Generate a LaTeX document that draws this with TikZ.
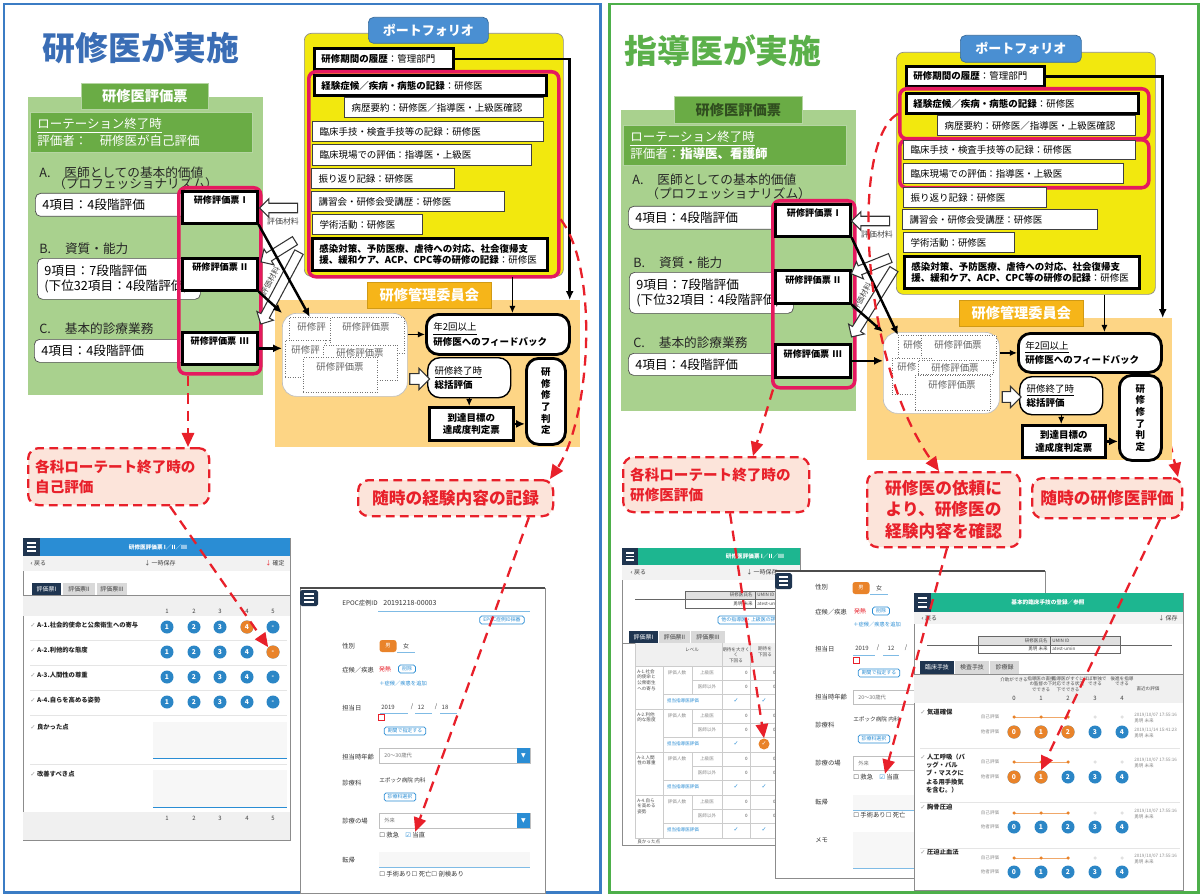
\documentclass[tikz,border=0pt]{standalone}
\usepackage{fontspec}
\setmainfont{Noto Sans CJK JP}
\newfontfamily\symf{DejaVu Sans}
\usetikzlibrary{arrows.meta,positioning,shapes.arrows}

\definecolor{panelblue}{HTML}{3B7CC4}
\definecolor{titleblue}{HTML}{3A6DB5}
\definecolor{panelgreen}{HTML}{4DAF4A}
\definecolor{titlegreen}{HTML}{5BB04A}
\definecolor{evalgreen}{HTML}{A9D18E}
\definecolor{headgreen}{HTML}{6AAC45}
\definecolor{pinkline}{HTML}{E5195F}
\definecolor{portyellow}{HTML}{F2E80E}
\definecolor{portblue}{HTML}{4A8FD2}
\definecolor{comorange}{HTML}{F6B519}
\definecolor{comfill}{HTML}{FDD585}
\definecolor{redline}{HTML}{E8202A}
\definecolor{callfill}{HTML}{FCE4DA}
\definecolor{appblue}{HTML}{2A8DD4}
\definecolor{appgreen}{HTML}{1DB690}
\definecolor{appnavy}{HTML}{1F3550}
\definecolor{dotblue}{HTML}{2B86C6}
\definecolor{dotorange}{HTML}{E9832A}

\begin{document}
\begin{tikzpicture}
  [x=0.02cm,y=-0.02cm,
  wh/.code 2 args={\pgfmathsetlengthmacro\pxW{#1*0.02cm}\pgfmathsetlengthmacro\pxT{#1*0.02cm-8pt}\pgfmathsetlengthmacro\pxH{#2*0.02cm}\edef\pxtmp{\noexpand\tikzset{minimum width=\pxW,minimum height=\pxH,text width=\pxT}}\pxtmp},
  plain box/.style={anchor=north west,inner xsep=4pt,inner ysep=0pt,align=left},
  row box/.style={plain box,draw=black!75,fill=white,line width=0.6pt,font=\fontsize{5.4}{6.6}\selectfont},
  bold row/.style={row box,draw=black,line width=1.6pt},
  pink frame/.style={plain box,draw=pinkline,line width=2pt,rounded corners=4pt},
  item box/.style={plain box,draw=black!70,fill=white,rounded corners=3pt,font=\fontsize{7.2}{9}\selectfont},
  item text/.style={anchor=west,inner sep=0pt,text=black!85,font=\fontsize{7.2}{9}\selectfont},
  sheet/.style={plain box,draw=black,line width=1.5pt,fill=white,align=center,inner ysep=2pt,text height=5pt,text depth=9pt,font=\fontsize{5.2}{6}\selectfont\bfseries},
  tag/.style={plain box,align=center,rounded corners=3pt,text=white,font=\fontsize{7.4}{8}\selectfont\bfseries},
  stack sheet/.style={plain box,draw=black!55,densely dotted,fill=white},
  stack text/.style={inner sep=0pt,text=black!60,font=\fontsize{5.4}{6}\selectfont},
  flow box/.style={plain box,draw=black,line width=1.6pt,fill=white,rounded corners=7pt,font=\fontsize{5.4}{7}\selectfont},
  call box/.style={plain box,draw=redline,line width=1.3pt,dash pattern=on 5pt off 3pt,fill=callfill,rounded corners=6pt,text=redline,font=\fontsize{9.5}{12.5}\selectfont\bfseries},
  red link/.style={draw=redline,line width=1.3pt,dash pattern=on 6pt off 4pt,-{Triangle[length=8pt,width=7pt]}},
  blk/.style={draw=black,line width=1.4pt,-{Latex[length=5pt,width=4.5pt]}},
  thin blk/.style={draw=black,line width=0.7pt,-{Latex[length=4pt,width=3.5pt]}},
  hollow/.style={single arrow,draw=black!80,fill=white,line width=0.6pt,inner xsep=0pt,inner ysep=2.4pt,single arrow head extend=2.6pt},
  mat text/.style={inner sep=0pt,text=black!70,font=\fontsize{4.5}{5}\selectfont},
  app head/.style={inner sep=0pt,text=white,font=\fontsize{3.2}{4}\selectfont\bfseries},
  app txt/.style={inner sep=0pt,text=black!75,font=\fontsize{3.4}{4}\selectfont},
  app tiny/.style={inner sep=0pt,text=black!70,font=\fontsize{2.6}{3.2}\selectfont},
  app bold/.style={inner sep=0pt,text=black!85,font=\fontsize{3.6}{4.6}\selectfont\bfseries},
  app lbl/.style={anchor=west,inner sep=0pt,text=black!80,font=\fontsize{3.6}{4.4}\selectfont},
  app btn/.style={draw=appblue,rounded corners=1pt,text=appblue,fill=white,inner xsep=2pt,inner ysep=1pt,font=\fontsize{2.8}{3.4}\selectfont},
  sex m/.style={fill=dotorange,rounded corners=1.5pt,text=white,minimum width=0.34cm,minimum height=0.24cm,inner sep=0pt,font=\fontsize{3}{3.5}\selectfont},
  dot/.style={circle,fill=dotblue,text=white,minimum size=0.26cm,inner sep=0pt,font=\fontsize{3.8}{4}\selectfont\bfseries},
  small dot/.style={circle,fill=dotorange,minimum size=0.07cm,inner sep=0pt}]
  \useasboundingbox (0,0) rectangle (1203,895);

  % panels
  \draw[panelblue,line width=1.7pt] (4,4) rectangle (600,892);
  \draw[panelgreen,line width=1.7pt] (609,4) rectangle (1198,892);
  \node[text=titleblue,font=\fontsize{18.7}{20}\selectfont\bfseries] (Ltitle) at (141,48) {研修医が実施};
  \node[text=titlegreen,font=\fontsize{18.7}{20}\selectfont\bfseries] (Rtitle) at (723,51) {指導医が実施};

  %%% left: evaluation sheet
  \node[plain box,fill=evalgreen,wh={235}{298}] (Lgreen) at (28,97) {};
  \node[tag,fill=headgreen,draw=white!50!headgreen,rounded corners=0pt,wh={127}{26},font=\fontsize{8.1}{9}\selectfont\bfseries] (Ltab) at (81,83) {研修医評価票};
  \node[plain box,fill=headgreen,draw=white!50!headgreen,wh={222}{40},text=white,font=\fontsize{7.1}{8.2}\selectfont] (Lsub) at (30,112) {\underline{ローテーション終了時}\\評価者：\hspace{1em}研修医が自己評価};
  \node[item text] (LtA) at (39,173) {A.\hspace{1.1em}医師としての基本的価値};
  \node[item text] (LtA2) at (53,184) {（プロフェッショナリズム）};
  \node[item box,wh={160}{23}] (LboxA) at (35,193) {4項目：4段階評価};
  \node[item text] (LtB) at (39,249) {B.\hspace{1.1em}資質・能力};
  \node[item box,wh={163}{41}] (LboxB) at (37,258) {9項目：7段階評価\\(下位32項目：4段階評価)};
  \node[item text] (LtC) at (39,329) {C.\hspace{1.1em}基本的診療業務};
  \node[item box,wh={156}{23}] (LboxC) at (34,339) {4項目：4段階評価};
  \node[pink frame,wh={82}{186}] (Lpink) at (177,186) {};
  \node[sheet,wh={75}{32}] (LshI) at (181,190) {研修評価票 I};
  \node[sheet,wh={75}{32}] (LshII) at (181,257) {研修評価票 II};
  \node[sheet,wh={75}{32}] (LshIII) at (181,331) {研修評価票 III};

  %%% left: portfolio
  \node[plain box,fill=portyellow,draw=black!45,rounded corners=4pt,wh={259}{243}] (Lport) at (304,33) {};
  \node[tag,fill=portblue,draw=portblue!75!black,wh={120}{26}] (Lportlbl) at (368,17) {ポートフォリオ};
  \node[bold row,wh={139}{21}] (Lhist) at (313,47) {\textbf{研修期間の履歴}：管理部門};
  \node[pink frame,wh={250}{205}] (Lpinkp) at (307,70) {};
  \node[bold row,wh={232}{20}] (Lr1) at (313,74) {\textbf{経験症候／疾病・病態の記録}：研修医};
  \node[row box,wh={199}{20}] (Lr2) at (344,97) {病歴要約：研修医／指導医・上級医確認};
  \node[row box,wh={231}{20}] (Lr3) at (312,121) {臨床手技・検査手技等の記録：研修医};
  \node[row box,wh={219}{21}] (Lr4) at (312,144) {臨床現場での評価：指導医・上級医};
  \node[row box,wh={143}{20}] (Lr5) at (311,168) {振り返り記録：研修医};
  \node[row box,wh={193}{20}] (Lr6) at (311,191) {講習会・研修会受講歴：研修医};
  \node[row box,wh={110}{20}] (Lr7) at (312,214) {学術活動：研修医};
  \node[bold row,wh={235}{32}] (Lr8) at (311,237) {\textbf{感染対策、予防医療、虐待への対応、社会復帰支}\\\textbf{援、緩和ケア、ACP、CPC等の研修の記録}：研修医};

  %%% left: committee
  \node[plain box,fill=comfill,wh={305}{147}] (Lcom) at (275,300) {};
  \node[tag,fill=comorange,draw=comorange!85!black,rounded corners=0pt,wh={124}{26},font=\fontsize{8.1}{9}\selectfont\bfseries] (Lcomlbl) at (367,282) {研修管理委員会};
  \node[plain box,fill=white,draw=black!25,rounded corners=8pt,wh={125}{83}] (Lstack) at (282,313) {};
  \node[stack sheet,wh={41}{23}] (Ls1) at (289,317) {};
  \node[stack sheet,wh={74}{36}] (Ls2) at (330,317) {};
  \node[stack text,anchor=west] (Lst1) at (297,327) {研修評};
  \node[stack text] (Lst2) at (366,327) {研修評価票};
  \node[stack sheet,wh={40}{37}] (Ls3) at (285,340) {};
  \node[stack sheet,wh={74}{35}] (Ls4) at (323,345) {};
  \node[stack text,anchor=west] (Lst3) at (291,350) {研修評};
  \node[stack text] (Lst4) at (360,353) {研修評価票};
  \node[stack sheet,wh={74}{35}] (Ls5) at (303,357) {};
  \node[stack text] (Lst5) at (340,367) {研修評価票};
  \node[flow box,wh={143}{40}] (Lfb) at (425,313) {\underline{年2回以上}\\\textbf{研修医へのフィードバック}};
  \node[flow box,line width=0.8pt,wh={83}{40}] (Lsum) at (427,357) {\underline{研修終了時}\\\textbf{総括評価}};
  \node[flow box,rounded corners=0pt,align=center,wh={84}{33},font=\fontsize{5.4}{7}\selectfont\bfseries] (Lach) at (428,406) {到達目標の\\達成度判定票};
  \node[flow box,align=center,wh={39}{86},font=\fontsize{5.4}{6.6}\selectfont\bfseries] (Ljdg) at (525,357) {研\\修\\修\\了\\判\\定};

  \coordinate (Lfbtop) at ([xshift=0.29cm]Lfb.north);
  \coordinate (Lcomtop) at ([xshift=-0.22cm]Lcom.north east);
  \draw[thin blk] (Lport.south -| Lfbtop) -- (Lfbtop);
  \draw[blk] (Lhist.east) -| (Lcomtop);
  \draw[thin blk] (Lstack.east |- Lfb.west) -- (Lfb.west);
  \node[hollow,inner ysep=2.8pt,single arrow head extend=3pt,minimum height=0.4cm] (Lho) at (417,379) {};
  \draw[thin blk] (Lsum.south) -- (Lsum.south |- Lach.north);
  \draw[blk] (Lach.east) -- (Lach.east -| Ljdg.west);

  % evaluation material
  \node[hollow,rotate=180,minimum height=0.76cm] (Lh1) at (281,208) {};
  \node[mat text] (Lm1) at (283,221) {評価材料};
  \node[hollow,rotate=212,minimum height=0.8cm] (Lh2) at (280,250) {};
  \node[hollow,rotate=242,minimum height=1.63cm] (Lh3) at (281,286) {};
  \node[mat text,rotate=62] (Lm2) at (270,281) {評価材料};
  \draw[blk] (LshI.south east) -- (Ls1.north);
  \draw[blk] (LshII.south east) -- (Lstack.north west);
  \draw[blk] (LshIII.east) -- (Lstack.west |- LshIII.east);

  %%% right: evaluation sheet
  \node[plain box,fill=evalgreen,wh={235}{301}] (Rgreen) at (621,110) {};
  \node[tag,fill=headgreen,draw=white!50!headgreen,rounded corners=0pt,wh={128}{27},text=headgreen!45!black,font=\fontsize{8.1}{9}\selectfont\bfseries] (Rtab) at (674,96) {研修医評価票};
  \node[plain box,fill=headgreen,draw=white!50!headgreen,wh={223}{40},text=white,font=\fontsize{7.1}{8.2}\selectfont] (Rsub) at (623,125) {\underline{ローテーション終了時}\\評価者：\textbf{指導医、看護師}};
  \node[item text] (RtA) at (632,180) {A.\hspace{1.1em}医師としての基本的価値};
  \node[item text] (RtA2) at (646,194) {（プロフェッショナリズム）};
  \node[item box,wh={162}{23}] (RboxA) at (628,206) {4項目：4段階評価};
  \node[item text] (RtB) at (633,263) {B.\hspace{1.1em}資質・能力};
  \node[item box,wh={164}{41}] (RboxB) at (629,272) {9項目：7段階評価\\(下位32項目：4段階評価)};
  \node[item text] (RtC) at (633,343) {C.\hspace{1.1em}基本的診療業務};
  \node[item box,wh={152}{22}] (RboxC) at (628,353) {4項目：4段階評価};
  \node[pink frame,wh={82}{187}] (Rpink) at (771,199) {};
  \node[sheet,wh={75}{32}] (RshI) at (774,203) {研修評価票 I};
  \node[sheet,wh={75}{33}] (RshII) at (774,269) {研修評価票 II};
  \node[sheet,wh={75}{33}] (RshIII) at (774,343) {研修評価票 III};

  %%% right: portfolio
  \node[plain box,fill=portyellow,draw=black!45,rounded corners=4pt,wh={259}{242}] (Rport) at (896,52) {};
  \node[tag,fill=portblue,draw=portblue!75!black,wh={121}{27}] (Rportlbl) at (960,35) {ポートフォリオ};
  \node[bold row,wh={138}{20}] (Rhist) at (905,65) {\textbf{研修期間の履歴}：管理部門};
  \node[pink frame,wh={249}{50}] (Rpinkp1) at (898,87) {};
  \node[pink frame,wh={249}{48}] (Rpinkp2) at (898,138) {};
  \node[bold row,wh={232}{20}] (Rr1) at (905,92) {\textbf{経験症候／疾病・病態の記録}：研修医};
  \node[row box,wh={198}{20}] (Rr2) at (937,115) {病歴要約：研修医／指導医・上級医確認};
  \node[row box,wh={232}{19}] (Rr3) at (903,140) {臨床手技・検査手技等の記録：研修医};
  \node[row box,wh={220}{20}] (Rr4) at (903,163) {臨床現場での評価：指導医・上級医};
  \node[row box,wh={143}{20}] (Rr5) at (903,187) {振り返り記録：研修医};
  \node[row box,wh={195}{20}] (Rr6) at (902,209) {講習会・研修会受講歴：研修医};
  \node[row box,wh={111}{20}] (Rr7) at (903,232) {学術活動：研修医};
  \node[bold row,wh={235}{32}] (Rr8) at (903,255) {\textbf{感染対策、予防医療、虐待への対応、社会復帰支}\\\textbf{援、緩和ケア、ACP、CPC等の研修の記録}：研修医};

  % callout behind the committee box
  \node[call box,align=center,wh={150}{40}] (Rcall3) at (1031,477) {随時の研修医評価};
  \coordinate (Rtail) at (1166,425);
  \draw[red link] (Rtail) -- ([xshift=2.94cm]Rcall3.north west);

  %%% right: committee
  \node[plain box,fill=comfill,wh={305}{142}] (Rcom) at (867,318) {};
  \node[tag,fill=comorange,draw=comorange!85!black,rounded corners=0pt,wh={124}{26},font=\fontsize{8.1}{9}\selectfont\bfseries] (Rcomlbl) at (959,300) {研修管理委員会};
  \node[plain box,fill=white,draw=black!25,rounded corners=8pt,wh={116}{81}] (Rstack) at (883,332) {};
  \node[stack sheet,wh={40}{24}] (Rs1) at (898,335) {};
  \node[stack text,anchor=west] (Rst1) at (903,345) {研修評};
  \node[stack sheet,wh={75}{27}] (Rs2) at (921,335) {};
  \node[stack text] (Rst2) at (958,345) {研修評価票};
  \node[stack sheet,wh={40}{36}] (Rs3) at (892,358) {};
  \node[stack sheet,wh={75}{14}] (Rs4) at (918,360) {};
  \node[stack text,anchor=west] (Rst3) at (897,367) {研修};
  \node[stack text] (Rst4) at (955,368) {研修評価票};
  \node[stack sheet,wh={75}{35}] (Rs5) at (915,375) {};
  \node[stack text] (Rst5) at (952,385) {研修評価票};
  \node[flow box,wh={143}{39}] (Rfb) at (1017,332) {\underline{年2回以上}\\\textbf{研修医へのフィードバック}};
  \node[flow box,line width=0.8pt,wh={83}{38}] (Rsum) at (1019,376) {\underline{研修終了時}\\\textbf{総括評価}};
  \node[flow box,rounded corners=0pt,align=center,wh={83}{32},font=\fontsize{5.4}{7}\selectfont\bfseries] (Rach) at (1021,424) {到達目標の\\達成度判定票};
  \node[flow box,align=center,wh={42}{85},font=\fontsize{5.4}{6.6}\selectfont\bfseries] (Rjdg) at (1118,374) {研\\修\\修\\了\\判\\定};

  \coordinate (Rfbtop) at ([xshift=0.29cm]Rfb.north);
  \coordinate (Rcomtop) at ([xshift=-0.2cm]Rcom.north east);
  \draw[thin blk] (Rport.south -| Rfbtop) -- (Rfbtop);
  \draw[blk] (Rhist.east) -| (Rcomtop);
  \draw[thin blk] (Rstack.east |- Rfb.west) -- (Rfb.west);
  \node[hollow,inner ysep=2.8pt,single arrow head extend=3pt,minimum height=0.38cm] (Rho) at (1009,397) {};
  \draw[thin blk] (Rsum.south) -- (Rsum.south |- Rach.north);
  \draw[blk] (Rach.east) -- (Rach.east -| Rjdg.west);

  \node[hollow,rotate=180,minimum height=0.76cm] (Rh1) at (873,221) {};
  \node[mat text] (Rm1) at (877,234) {評価材料};
  \node[hollow,rotate=202,minimum height=0.84cm] (Rh2) at (873,265) {};
  \node[hollow,rotate=238,minimum height=1.6cm] (Rh3) at (874,301) {};
  \node[mat text,rotate=62] (Rm2) at (862,297) {評価材料};
  \draw[blk] (RshI.south east) -- (Rs1.north west);
  \draw[blk] (RshII.south east) -- (Rstack.north west);
  \draw[blk] (RshIII.east) -- (Rstack.west |- RshIII.east);

  %%% callouts
  \node[call box,wh={181}{57},font=\fontsize{8.3}{11.5}\selectfont\bfseries] (Lcall1) at (27,447) {各科ローテート終了時の\\自己評価};
  \node[call box,align=center,wh={195}{36}] (Lcall2) at (357,479) {随時の経験内容の記録};
  \node[call box,wh={186}{55},font=\fontsize{8.3}{11.5}\selectfont\bfseries] (Rcall1) at (622,456) {各科ローテート終了時の\\研修医評価};
  \node[call box,align=center,wh={153}{75}] (Rcall2) at (866,471) {研修医の依頼に\\より、研修医の\\経験内容を確認};

  %%% screen 1: self evaluation
  \draw[black!45,fill=white] (23,538) rectangle (290,840);
  \fill[appblue] (23,538) rectangle (290,556);
  \fill[appnavy] (23,538) rectangle (40,556);
  \foreach \yy in {543,547,551} \draw[white,line width=0.7pt] (27,\yy) -- (36,\yy);
  \node[app head] (s1head) at (158,547) {研修医評価票 I／II／III};
  \fill[black!5] (23,556) rectangle (290,571);
  \node[app txt,anchor=west] (s1back) at (30,563) {{\symf ‹} 戻る};
  \node[app txt] (s1save) at (160,563) {↓ 一時保存};
  \node[app txt,anchor=east] (s1fix) at (285,563) {{\color{redline}↓} 確定};
  \fill[appnavy] (32,583) rectangle (61,595);
  \node[app txt,text=white] (s1t1) at (46.5,589) {評価票I};
  \fill[black!15] (63,583) rectangle (95,595);
  \node[app txt] (s1t2) at (79,589) {評価票II};
  \fill[black!15] (97,583) rectangle (127,595);
  \node[app txt] (s1t3) at (112,589) {評価票III};
  \fill[black!6] (23,595) rectangle (290,616);
  \draw[black!45] (23,595) -- (290,595);
  \foreach \cl/\xx in {1/167,2/194,3/220,4/247,5/273}
    \node[app txt] (s1n\cl) at (\xx,611) {\cl};
  \foreach \rw/\yy/\lab in {1/627/{A-1.社会的使命と公衆衛生への寄与},2/652/{A-2.利他的な態度},3/677/{A-3.人間性の尊重},4/702/{A-4.自らを高める姿勢}}{
    \node[app bold,anchor=west] (s1r\rw) at (30,\yy-2) {{\symf\color{black!40}✓} \lab};
    \foreach \cl/\xx/\vl in {1/167/1,2/194/2,3/220/3,4/247/4,5/273/-}
      \node[dot] (s1d\rw\cl) at (\xx,\yy) {\vl};
    \draw[black!10] (30,\yy+13) -- (287,\yy+13);
  }
  \node[dot,fill=dotorange] (s1x) at (247,627) {4};
  \node[dot,fill=dotorange] (s1o) at (273,652) {-};
  \node[app bold,anchor=west] (s1good) at (30,727) {{\symf\color{black!40}✓} 良かった点};
  \fill[black!3] (153,722) rectangle (287,758);
  \draw[appblue] (153,758) -- (287,758);
  \draw[black!10] (30,764) -- (287,764);
  \node[app bold,anchor=west] (s1bad) at (30,774) {{\symf\color{black!40}✓} 改善すべき点};
  \fill[black!3] (153,770) rectangle (287,807);
  \draw[appblue] (153,807) -- (287,807);
  \fill[black!6] (23,812) rectangle (290,840);
  \foreach \cl/\xx in {1/167,2/194,3/220,4/247,5/273}
    \node[app txt] (s1f\cl) at (\xx,818) {\cl};

  %%% screen 2: case record
  \draw[black!45,fill=white] (300,588) rectangle (545,893);
  \draw[black!70,line width=0.8pt] (300,588) -- (545,588);
  \fill[appnavy,rounded corners=1pt] (300,590) rectangle (318,606);
  \foreach \yy in {594,598,602} \draw[white,line width=0.7pt] (304,\yy) -- (314,\yy);
  \node[app lbl] (s2l1) at (342,603) {EPOC症例ID};
  \node[app lbl,font=\fontsize{4}{5}\selectfont] (s2v1) at (383,603) {20191218-00003};
  \draw[appblue!60] (378,611) -- (530,611);
  \node[app btn] (s2b1) at (502,620) {EPOC症例ID採番};
  \node[app lbl] (s2l2) at (342,646) {性別};
  \node[sex m] (s2m) at (388,646) {男};
  \node[app txt] (s2f) at (406,646) {女};
  \draw[appblue!60] (397,652) -- (415,652);
  \node[app lbl] (s2l3) at (342,670) {症候／疾患};
  \node[app txt,text=redline] (s2sym) at (385,669) {発熱};
  \node[app btn] (s2del) at (407,669) {削除};
  \node[app lbl,text=appblue,font=\fontsize{3}{4}\selectfont] (s2add) at (379,683) {＋症候／疾患を追加};
  \node[app lbl] (s2l4) at (342,708) {担当日};
  \node[app txt] (s2y) at (388,707) {2019};
  \node[app txt] (s2s1) at (412,707) {/};
  \node[app txt] (s2mo) at (421,707) {12};
  \node[app txt] (s2s2) at (436,707) {/};
  \node[app txt] (s2d) at (445,707) {18};
  \draw[appblue!60] (380,713) -- (408,713) (415,713) -- (432,713) (440,713) -- (457,713);
  \draw[redline] (378,714) rectangle (384,720);
  \node[app btn] (s2per) at (405,731) {期間で指定する};
  \node[app lbl] (s2l5) at (342,757) {担当時年齢};
  \draw[black!25] (379,748) rectangle (530,763);
  \fill[appblue] (517,748) rectangle (530,763);
  \node[app txt,text=white] (s2dd1) at (523.5,755.5) {\symf ▼};
  \node[app lbl,text=black!55,font=\fontsize{3}{4}\selectfont] (s2age) at (384,755.5) {20〜30歳代};
  \node[app lbl] (s2l6) at (342,783) {診療科};
  \node[app lbl,font=\fontsize{3.2}{4}\selectfont] (s2dep) at (379,780) {エポック病院 内科};
  \node[app btn] (s2sel) at (400,797) {診療科選択};
  \node[app lbl] (s2l7) at (342,821) {診療の場};
  \draw[black!25] (379,813) rectangle (530,828);
  \fill[appblue] (517,813) rectangle (530,828);
  \node[app txt,text=white] (s2dd2) at (523.5,820.5) {\symf ▼};
  \node[app lbl,text=black!55,font=\fontsize{3}{4}\selectfont] (s2out) at (384,820.5) {外来};
  \node[app lbl] (s2cb1) at (379,835) {{\symf ☐} 救急};
  \node[app lbl] (s2cb2) at (405,835) {{\symf\color{appblue}☑} 当直};
  \node[app lbl] (s2l8) at (342,860) {転帰};
  \fill[black!3] (379,852) rectangle (530,867);
  \draw[appblue!60] (379,867) -- (530,867);
  \node[app lbl] (s2cb3) at (379,874) {{\symf ☐} 手術あり{\symf ☐} 死亡{\symf ☐} 剖検あり};

  %%% screen 3: supervisor evaluation
  \draw[black!45,fill=white] (622,548) rectangle (800,845);
  \fill[appgreen] (622,548) rectangle (800,565);
  \fill[appnavy] (622,548) rectangle (638,565);
  \foreach \yy in {553,556.5,560} \draw[white,line width=0.7pt] (626,\yy) -- (634,\yy);
  \node[app head] (s3head) at (755,556) {研修医評価票 I／II／III};
  \fill[black!5] (622,565) rectangle (800,580);
  \node[app txt,anchor=west] (s3back) at (630,572) {{\symf ‹} 戻る};
  \node[app txt] (s3save) at (762,572) {↓ 一時保存};
  \fill[black!12] (685,591) rectangle (800,599);
  \draw[black!60] (685,591) rectangle (800,608) (685,599) -- (800,599) (755,591) -- (755,608) (635,599) -- (685,599);
  \node[app tiny,anchor=east] (s3i1) at (753,595) {研修医氏名};
  \node[app tiny,anchor=west] (s3i2) at (757,595) {UMIN ID};
  \node[app tiny,anchor=east] (s3i3) at (753,603.5) {勇明 未来};
  \node[app tiny,anchor=west] (s3i4) at (757,603.5) {atest-umin};
  \node[app btn] (s3b) at (751,620) {他の指導医・上級医の評価};
  \fill[appnavy] (629,631) rectangle (658,643);
  \node[app txt,text=white] (s3t1) at (643.5,637) {評価票I};
  \fill[black!15] (659,631) rectangle (690,643);
  \node[app txt] (s3t2) at (674.5,637) {評価票II};
  \fill[black!15] (691,631) rectangle (725,643);
  \node[app txt] (s3t3) at (708,637) {評価票III};
  \draw[black!45] (622,643) -- (800,643);
  \fill[black!6] (635,643) rectangle (800,666);
  \node[app tiny] (s3lv) at (692,650) {レベル};
  \node[app tiny,align=center] (s3h1) at (736,655) {期待を大きく\\く\\下回る};
  \node[app tiny,align=center] (s3h2) at (765,652) {期待を\\下回る};
  \draw[black!20] (635,643) -- (635,838) (722,643) -- (722,838) (750,643) -- (750,838) (663,666) -- (663,838);
  \foreach \bk/\yy/\lab in {1/666/{A-1.社会\\的使命と\\公衆衛生\\への寄与},2/709/{A-2.利他\\的な態度},3/752/{A-3.人間\\性の尊重},4/795/{A-4.自ら\\を高める\\姿勢}}{
    \draw[black!20] (635,\yy) -- (800,\yy) (692,\yy+14) -- (800,\yy+14) (663,\yy+28) -- (800,\yy+28) (692,\yy) -- (692,\yy+28);
    \node[app tiny,anchor=north west,align=left] (s3a\bk) at (637,\yy+3) {\lab};
    \node[app tiny,text=black!45] (s3n\bk) at (677,\yy+7) {評価人数};
    \node[app tiny,text=black!45] (s3u\bk) at (707,\yy+7) {上級医};
    \node[app tiny,text=black!45] (s3o\bk) at (707,\yy+21) {医師以外};
    \node[app tiny,anchor=east] (s3za\bk) at (748,\yy+7) {0};
    \node[app tiny,anchor=east] (s3zb\bk) at (776,\yy+7) {0};
    \node[app tiny,anchor=east] (s3zc\bk) at (748,\yy+21) {0};
    \node[app tiny,anchor=east] (s3zd\bk) at (776,\yy+21) {0};
    \node[app tiny,text=appblue] (s3t\bk) at (683,\yy+35) {担当指導医評価};
    \node[app txt,text=appblue] (s3ca\bk) at (736,\yy+35) {\symf ✓};
    \node[app txt,text=appblue] (s3cb\bk) at (764,\yy+35) {\symf ✓};
  }
  \draw[black!20] (635,838) -- (800,838);
  \node[dot,fill=dotorange,minimum size=0.22cm,font=\fontsize{3.4}{4}\selectfont] (s3chk) at (764,744) {\symf ✓};
  \node[app tiny,anchor=west] (s3good) at (637,842) {良かった点};

  %%% screen 4: case record
  \draw[black!45,fill=white] (775,571) rectangle (1045,878);
  \draw[black!70,line width=0.8pt] (775,571) -- (1045,571);
  \fill[appnavy,rounded corners=1pt] (775,573) rectangle (792,589);
  \foreach \yy in {577,581,585} \draw[white,line width=0.7pt] (779,\yy) -- (788,\yy);
  \node[app lbl] (s4l1) at (815,587) {性別};
  \node[sex m] (s4m) at (861,588) {男};
  \node[app txt] (s4f) at (879,588) {女};
  \draw[appblue!60] (870,594) -- (888,594);
  \node[app lbl] (s4l2) at (815,612) {症候／疾患};
  \node[app txt,text=redline] (s4sym) at (860,611) {発熱};
  \node[app btn] (s4del) at (881,611) {削除};
  \node[app lbl,text=appblue,font=\fontsize{3}{4}\selectfont] (s4add) at (853,624) {＋症候／疾患を追加};
  \node[app lbl] (s4l3) at (815,649) {担当日};
  \node[app txt] (s4y) at (862,648) {2019};
  \node[app txt] (s4s1) at (878,648) {/};
  \node[app txt] (s4mo) at (891,648) {12};
  \node[app txt] (s4s2) at (906,648) {/};
  \draw[appblue!60] (853,655) -- (875,655) (883,655) -- (899,655);
  \draw[redline] (853,657) rectangle (859,663);
  \node[app btn] (s4per) at (879,673) {期間で指定する};
  \node[app lbl] (s4l4) at (815,697) {担当時年齢};
  \draw[black!25] (853,690) rectangle (930,704);
  \node[app lbl,text=black!55,font=\fontsize{3}{4}\selectfont] (s4age) at (858,697) {20〜30歳代};
  \node[app lbl] (s4l5) at (815,725) {診療科};
  \node[app lbl,font=\fontsize{3.2}{4}\selectfont] (s4dep) at (853,719) {エポック病院 内科};
  \node[app btn] (s4sel) at (874,739) {診療科選択};
  \node[app lbl] (s4l6) at (815,763) {診療の場};
  \draw[black!25] (853,756) rectangle (930,770);
  \node[app lbl,text=black!55,font=\fontsize{3}{4}\selectfont] (s4out) at (858,763) {外来};
  \node[app lbl] (s4cb1) at (853,777) {{\symf ☐} 救急};
  \node[app lbl] (s4cb2) at (879,777) {{\symf\color{appblue}☑} 当直};
  \node[app lbl] (s4l7) at (815,802) {転帰};
  \fill[black!3] (853,795) rectangle (930,810);
  \draw[appblue!60] (853,810) -- (930,810);
  \node[app lbl] (s4cb3) at (853,815) {{\symf ☐} 手術あり{\symf ☐} 死亡};
  \node[app lbl] (s4l8) at (815,840) {メモ};
  \fill[black!3] (853,832) rectangle (930,868);
  \draw[appblue!60] (853,868) -- (930,868);

  %%% screen 5: clinical skills
  \draw[black!45,fill=white] (914,593) rectangle (1183,890);
  \fill[appgreen] (914,593) rectangle (1183,612);
  \fill[appnavy] (914,593) rectangle (931,612);
  \foreach \yy in {598,602.5,607} \draw[white,line width=0.7pt] (918,\yy) -- (927,\yy);
  \node[app head] (s5head) at (1048,602) {基本的臨床手技の登録／参照};
  \fill[black!5] (914,612) rectangle (1183,624);
  \node[app txt,anchor=west] (s5back) at (921,618) {{\symf ‹} 戻る};
  \node[app txt,anchor=east] (s5save) at (1178,618) {↓ 保存};
  \draw[black!60] (927,645) -- (1172,645);
  \fill[black!12] (978,636) rectangle (1120,645);
  \draw[black!60] (978,636) rectangle (1120,653) (1050,636) -- (1050,653);
  \node[app tiny,anchor=east] (s5i1) at (1048,640.5) {研修医氏名};
  \node[app tiny,anchor=west] (s5i2) at (1052,640.5) {UMIN ID};
  \node[app tiny,anchor=east] (s5i3) at (1048,649) {勇明 未来};
  \node[app tiny,anchor=west] (s5i4) at (1052,649) {atest-umin};
  \fill[appnavy] (920,661) rectangle (954,674);
  \node[app txt,text=white] (s5t1) at (937,667.5) {臨床手技};
  \fill[black!15] (955,661) rectangle (989,674);
  \node[app txt] (s5t2) at (972,667.5) {検査手技};
  \fill[black!15] (990,661) rectangle (1019,674);
  \node[app txt] (s5t3) at (1004.5,667.5) {診療録};
  \draw[black!45] (914,674) -- (1183,674);
  \fill[black!6] (914,675) rectangle (1183,703);
  \node[app tiny,align=center] (s5c0) at (1014,680) {介助ができる};
  \node[app tiny,align=center] (s5c1) at (1041,684) {指導医の直接\\の監督の下\\でできる};
  \node[app tiny,align=center] (s5c2) at (1068,684) {指導医がすぐに\\対応できる状況\\下でできる};
  \node[app tiny,align=center] (s5c3) at (1095,681) {ほぼ単独で\\できる};
  \node[app tiny,align=center] (s5c4) at (1122,681) {後進を指導\\できる};
  \node[app tiny] (s5c5) at (1148,689) {直近の評価};
  \foreach \cl/\xx in {0/1014,1/1041,2/1068,3/1095,4/1122}
    \node[app txt] (s5n\cl) at (\xx,698) {\cl};
  \node[app bold,anchor=north west] (s5k1) at (920,709) {{\symf\color{black!40}✓} 気道確保};
  \node[app bold,anchor=north west,align=left] (s5k2) at (920,754) {{\symf\color{black!40}✓} 人工呼吸（バ\\\hspace{0.9em}ッグ・バル\\\hspace{0.9em}ブ・マスクに\\\hspace{0.9em}よる用手換気\\\hspace{0.9em}を含む。）};
  \node[app bold,anchor=north west] (s5k3) at (920,804) {{\symf\color{black!40}✓} 胸骨圧迫};
  \node[app bold,anchor=north west] (s5k4) at (920,849) {{\symf\color{black!40}✓} 圧迫止血法};
  \foreach \bk/\ys/\yo in {1/717/732,2/762/777,3/813/827,4/858/872}{
    \node[app tiny,text=black!45] (s5se\bk) at (990,\ys) {自己評価};
    \node[app tiny,text=black!45] (s5ot\bk) at (990,\yo) {他者評価};
    \draw[dotorange!70,line width=0.5pt] (1014,\ys) -- (1068,\ys);
    \foreach \cl/\xx in {0/1014,1/1041,2/1068}
      \node[small dot] (s5p\bk\cl) at (\xx,\ys) {};
    \foreach \cl/\xx in {3/1095,4/1122}
      \node[small dot,fill=black!12] (s5q\bk\cl) at (\xx,\ys) {};
    \foreach \cl/\xx in {0/1014,1/1041,2/1068,3/1095,4/1122}
      \node[dot] (s5d\bk\cl) at (\xx,\yo) {\cl};
    \node[app tiny,anchor=north west,align=left,text=black!45] (s5dt\bk) at (1134,\ys-4) {2019/10/07 17:55:16\\勇明 未来};
  }
  \node[app tiny,anchor=north west,align=left,text=black!45] (s5dt5) at (1134,728) {2019/11/14 15:41:23\\勇明 未来};
  \foreach \yy in {748,802,848} \draw[black!10] (920,\yy) -- (1180,\yy);
  \node[dot,fill=dotorange] (s5a0) at (1014,732) {0};
  \node[dot,fill=dotorange] (s5a1) at (1041,732) {1};
  \node[dot,fill=dotorange] (s5a2) at (1068,732) {2};
  \node[dot,fill=dotorange] (s5b0) at (1014,777) {0};
  \node[dot,fill=dotorange] (s5o) at (1041,777) {1};

  %%% red links
  \draw[red link] ([xshift=0.22cm]Lpink.south west) -- ([xshift=0.22cm]Lpink.south west |- Lcall1.north);
  \draw[red link] ([xshift=2.86cm]Lcall1.south west) -- (s1o.north west);
  \draw[red link] ([yshift=-0.9cm]Lpinkp.east) .. controls (600,270) and (590,420) .. ([xshift=3.86cm]Lcall2.north west);
  \draw[red link] ([xshift=3.44cm]Lcall2.south west) -- (s2cb2.north);
  \draw[red link] ([xshift=0.04cm]Rpink.south west) -- ([xshift=2.62cm]Rcall1.north west);
  \draw[red link] ([xshift=2.16cm]Rcall1.south west) -- (s3chk.north);
  \draw[red link] (Rpinkp1.west) .. controls (850,140) and (860,360) .. ([xshift=1.46cm]Rcall2.north west);
  \draw[red link] ([xshift=1.62cm]Rcall2.south west) -- ([xshift=0.12cm]s4cb2.north west);
  \draw[red link] ([xshift=2.58cm]Rcall3.south west) -- (s5o.north);
\end{tikzpicture}
\end{document}
